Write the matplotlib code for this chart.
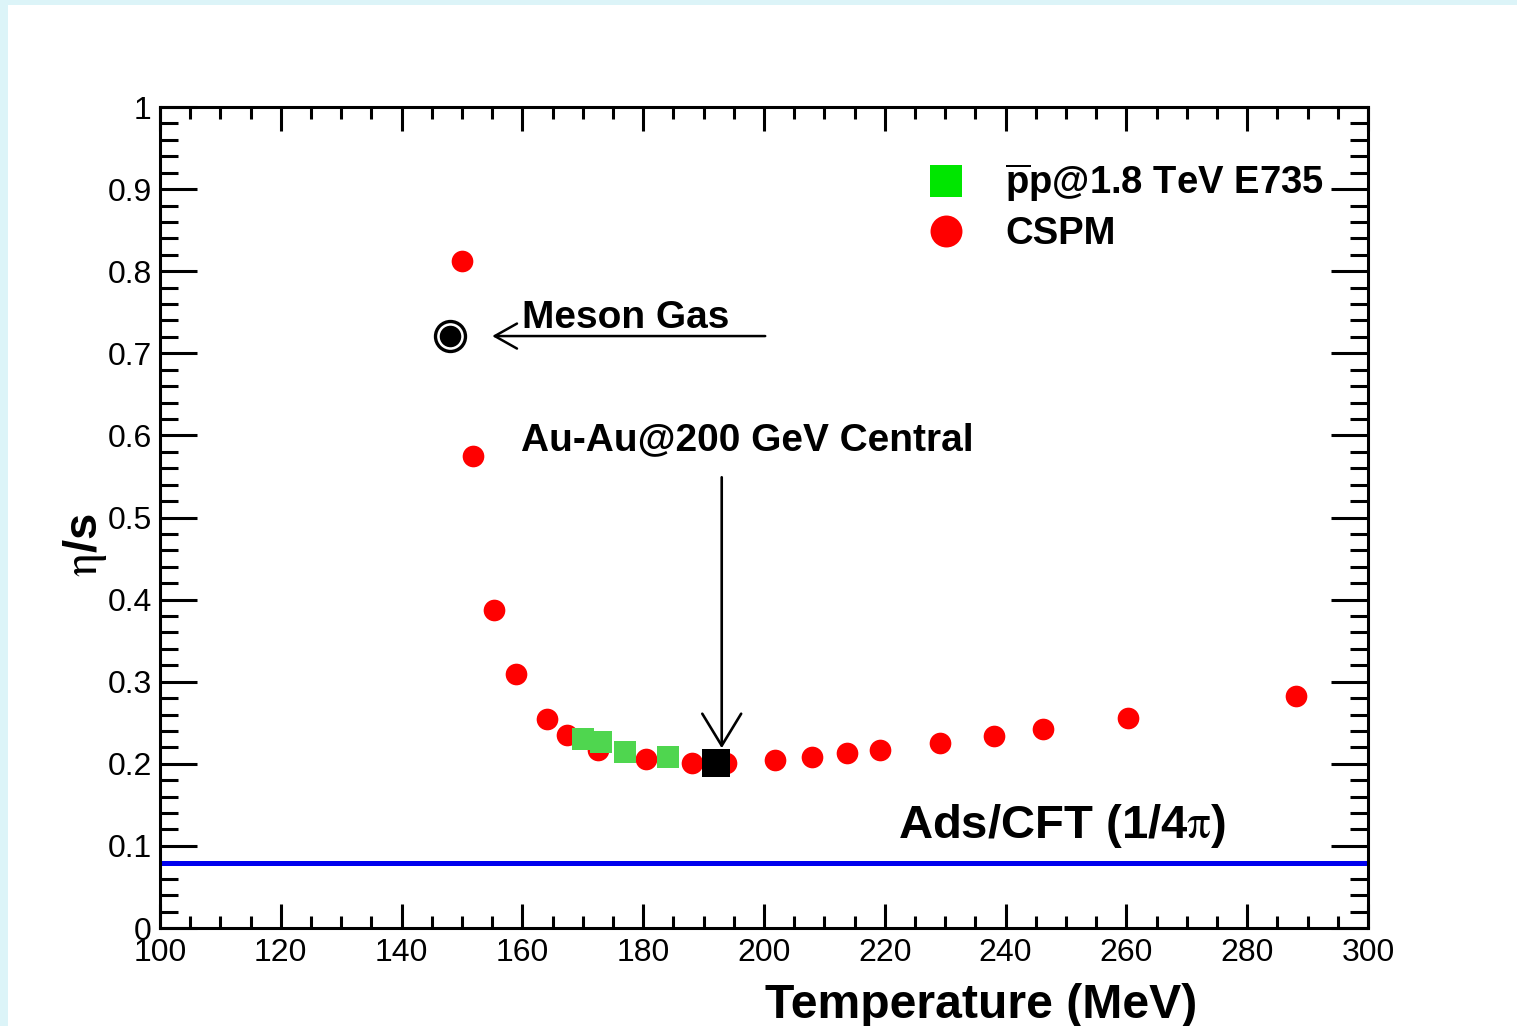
"""
eta/s vs temperature: CSPM points, E735 data, meson gas and the AdS/CFT bound.
"""
import matplotlib
matplotlib.use("Agg")
import matplotlib.pyplot as plt
from matplotlib.lines import Line2D
from matplotlib.patches import Rectangle
from matplotlib.ticker import MultipleLocator, FuncFormatter

plt.rcParams["font.family"] = ["Liberation Sans", "DejaVu Sans"]
plt.rcParams["mathtext.fontset"] = "custom"
plt.rcParams["mathtext.rm"] = "Liberation Sans:bold"
plt.rcParams["mathtext.bf"] = "Liberation Sans:bold"

# CSPM (red circles)
cspm_T = [150.0, 151.8, 155.3, 158.9, 164.1, 167.4, 172.5, 180.5, 188.1, 193.7,
          201.8, 207.9, 213.7, 219.2, 229.1, 238.1, 246.2, 260.3, 288.1]
cspm_eta_s = [0.812, 0.575, 0.387, 0.309, 0.255, 0.235, 0.217, 0.206, 0.201, 0.201,
              0.205, 0.208, 0.213, 0.217, 0.225, 0.234, 0.242, 0.256, 0.283]

# pbar-p @ 1.8 TeV E735 (green squares)
e735_T = [170.0, 173.0, 177.0, 184.1]
e735_eta_s = [0.230, 0.227, 0.214, 0.208]

# Au-Au @ 200 GeV central (black square)
auau_T = [192.1]
auau_eta_s = [0.201]

# meson gas (ringed black dot)
meson_T = [148.0]
meson_eta_s = [0.721]

ADS_CFT = 0.0796  # 1/4pi

RED = "#ff0000"
GREEN = "#4fd64f"

fig = plt.figure(figsize=(15.17, 10.26), dpi=100, facecolor="#dcf4f8")
fig.patches.append(Rectangle((8 / 1517, 0), 1, 1 - 5 / 1026, transform=fig.transFigure,
                             facecolor="white", edgecolor="none", zorder=-10))
ax = fig.add_axes([160 / 1517, 98 / 1026, 1208 / 1517, 821 / 1026])

ax.axhline(ADS_CFT, color="#0000ee", lw=3.6, zorder=2)
ax.plot(cspm_T, cspm_eta_s, "o", color=RED, ms=15.6, mew=0, zorder=3)
ax.plot(e735_T, e735_eta_s, "s", color=GREEN, ms=15.5, mew=0, zorder=4)
ax.plot(auau_T, auau_eta_s, "s", color="black", ms=20.5, mew=0, zorder=5)
ax.plot(meson_T, meson_eta_s, "o", mfc="none", mec="black", ms=21.6, mew=2.4, zorder=5)
ax.plot(meson_T, meson_eta_s, "o", color="black", ms=15.5, mew=0, zorder=5)

# annotations
ax.annotate("", xy=(155.0, meson_eta_s[0]), xytext=(200.2, meson_eta_s[0]),
            arrowprops=dict(arrowstyle="->,head_length=0.8,head_width=0.45",
                            mutation_scale=20, lw=1.8, color="black",
                            shrinkA=0, shrinkB=0))
ax.annotate("", xy=(193.0, 0.219), xytext=(193.0, 0.549),
            arrowprops=dict(arrowstyle="->,head_length=1.15,head_width=0.7",
                            mutation_scale=20, lw=1.9, color="black",
                            shrinkA=0, shrinkB=0))
ax.text(159.9, 0.731, "Meson Gas", fontsize=28, fontweight="bold", ha="left", va="baseline")
ax.text(159.8, 0.582, "Au-Au@200 GeV Central", fontsize=28, fontweight="bold",
        ha="left", va="baseline")
ax.text(222.2, 0.110, r"Ads/CFT (1/4$\mathrm{\pi}$)", fontsize=34, fontweight="bold",
        ha="left", va="baseline", math_fontfamily="stix")

# legend
handles = [Line2D([], [], ls="none", marker="s", color="#00e600", ms=23, mew=0),
           Line2D([], [], ls="none", marker="o", color=RED, ms=23, mew=0)]
labels = [r"$\overline{\mathrm{p}}\mathrm{p}$@1.8 TeV E735", "CSPM"]
leg = ax.legend(handles, labels, loc="upper left", bbox_to_anchor=(927 / 1517, 1 - 162 / 1026),
                bbox_transform=fig.transFigure, frameon=False, handlelength=1.0,
                handletextpad=1.05, labelspacing=0.3, borderpad=0, borderaxespad=0,
                prop=dict(size=27.5, weight="bold"))

ax.set_xlim(100, 300)
ax.set_ylim(0, 1)
ax.xaxis.set_major_locator(MultipleLocator(20))
ax.xaxis.set_minor_locator(MultipleLocator(5))
ax.yaxis.set_major_locator(MultipleLocator(0.1))
ax.yaxis.set_minor_locator(MultipleLocator(0.02))
ax.yaxis.set_major_formatter(FuncFormatter(lambda v, p: f"{v:g}"))
ax.tick_params(axis="both", which="both", direction="in", top=True, right=True,
               width=2.2, labelsize=23, colors="black")
ax.tick_params(axis="x", which="major", length=17.5, pad=7)
ax.tick_params(axis="x", which="minor", length=8.6)
ax.tick_params(axis="y", which="major", length=26.6, pad=6)
ax.tick_params(axis="y", which="minor", length=13)
for s in ax.spines.values():
    s.set_linewidth(2.2)

fig.text(1197 / 1517, 8 / 1026, "Temperature (MeV)", fontsize=34.7, fontweight="bold",
         ha="right", va="baseline")
fig.text(85 / 1517, 1 - 545 / 1026, r"$\mathrm{\eta}$/s", fontsize=34, fontweight="bold",
         rotation=90, ha="center", va="center", math_fontfamily="stix")

fig.savefig("out.png", dpi=100, facecolor=fig.get_facecolor())
